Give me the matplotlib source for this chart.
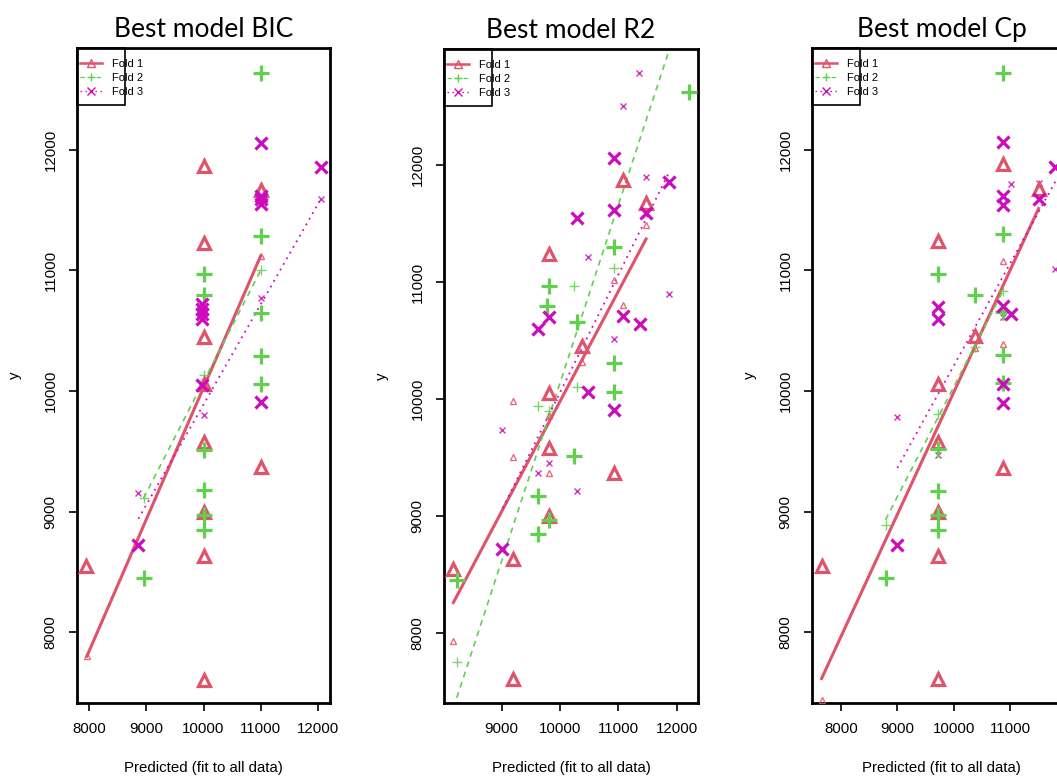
import numpy as np
import matplotlib
matplotlib.use("Agg")
import matplotlib.pyplot as plt
from matplotlib.patches import Rectangle

plt.rcParams['font.family'] = ['Liberation Sans', 'DejaVu Sans']

# colours of the three folds (R 4 palette)
FOLD_COLORS = ['#DF536B', '#61D04F', '#CD0BBC']
FOLD_NAMES = ['Fold 1', 'Fold 2', 'Fold 3']

# ---- Best model BIC ----
bic_f1_x = [7950, 10000, 10000, 10000, 10000, 10000, 10000, 10000, 10000, 11000, 11000]
bic_f1_y = [8550, 11870, 11230, 10450, 10060, 9580, 9000, 8630, 7600, 11670, 9370]
bic_f1_sx = [7960, 10000, 11000]
bic_f1_sy = [7800, 10060, 11120]
bic_f1_line = [(7960, 11000), (7800, 11120)]

bic_f2_x = [8950, 10000, 10000, 10000, 10000, 10000, 10000, 11000, 11000, 11000, 11000, 11000]
bic_f2_y = [8450, 10970, 10800, 9510, 9180, 8970, 8850, 12640, 11290, 10650, 10290, 10060]
bic_f2_sx = [8950, 10000, 11000]
bic_f2_sy = [9110, 10130, 11000]
bic_f2_line = [(8950, 11000), (9110, 11000)]

bic_f3_x = [8850, 9980, 9980, 9980, 9980, 9980, 11000, 11000, 11000, 11000, 11000, 12050]
bic_f3_y = [8720, 10720, 10680, 10640, 10600, 10050, 12060, 11620, 11590, 11550, 9910, 11860]
bic_f3_sx = [8850, 10000, 11000, 12050]
bic_f3_sy = [9150, 9800, 10770, 11590]
bic_f3_line = [(8860, 12050), (8940, 11590)]

# ---- Best model R2 ----
r2_f1_x = [9810, 11086, 11477, 10385, 9810, 9810, 9810, 10920, 8172, 9190, 9190]
r2_f1_y = [11239, 11872, 11673, 10457, 10048, 9584, 9000, 9365, 8550, 8630, 7607]
r2_f1_sx = [9190, 9190, 9810, 8172, 9810, 10385, 10920, 11086, 11477]
r2_f1_sy = [9986, 9500, 9365, 7929, 9860, 10320, 11020, 10807, 11489]
r2_f1_line = [(8172, 11477), (8259, 11369)]

r2_f2_x = [12207, 10920, 9810, 9770, 10299, 10920, 10920, 10247, 9621, 9810, 9621, 8230]
r2_f2_y = [12625, 11298, 10969, 10798, 10656, 10304, 10063, 9513, 9174, 8963, 8846, 8456]
r2_f2_sx = [10247, 10920, 10299, 9621, 9810, 8230]
r2_f2_sy = [10963, 11125, 10102, 9940, 9900, 7752]
r2_f2_line = [(8230, 12207), (7444, 13493)]

r2_f3_x = [10920, 10299, 10920, 11477, 11862, 9810, 9621, 11086, 11374, 10477, 10920, 9000]
r2_f3_y = [12065, 11545, 11616, 11594, 11858, 10702, 10599, 10713, 10645, 10062, 9906, 8721]
r2_f3_sx = [11362, 11086, 11477, 10477, 11862, 10920, 9000, 9810, 9621, 10299]
r2_f3_sy = [12787, 12503, 11895, 11213, 10898, 10514, 9735, 9450, 9365, 9217]
r2_f3_line = [(9017, 11862), (9066, 11929)]

# ---- Best model Cp ----
cp_f1_x = [7657, 9727, 10869, 11503, 10375, 9727, 9727, 9727, 9727, 10869, 9727]
cp_f1_y = [8544, 11242, 11883, 11675, 10456, 10056, 9578, 8994, 8628, 9365, 7608]
cp_f1_sx = [7657, 10869, 10869, 10375, 11503]
cp_f1_sy = [7434, 11078, 10389, 10360, 11720]
cp_f1_line = [(7657, 11503), (7614, 11514)]

cp_f2_x = [10869, 10869, 9727, 10375, 10869, 10869, 10869, 9727, 9727, 9727, 9727, 8790]
cp_f2_y = [12639, 11300, 10967, 10797, 10653, 10297, 10064, 9517, 9174, 8967, 8843, 8450]
cp_f2_sx = [8790, 9727, 10869, 10375]
cp_f2_sy = [8892, 9807, 10828, 10365]
cp_f2_line = [(8790, 10869), (8931, 10828)]

cp_f3_x = [10869, 11799, 10869, 10869, 11503, 9727, 9727, 10869, 11017, 10869, 10869, 9000]
cp_f3_y = [12069, 11861, 11617, 11542, 11597, 10694, 10597, 10708, 10639, 10056, 9903, 8718]
cp_f3_sx = [11017, 11503, 11799, 10869, 9000, 9727]
cp_f3_sy = [11717, 11728, 11014, 10611, 9785, 9470]
cp_f3_line = [(9000, 11850), (9362, 11780)]

titles = ['Best model BIC', 'Best model R2', 'Best model Cp']
xlims = [(7786, 12214), (8011, 12368), (7487, 12077)]
ylims = [(7411, 12846), (7400, 12994), (7411, 12846)]
xtick_sets = [[8000, 9000, 10000, 11000, 12000],
              [9000, 10000, 11000, 12000],
              [8000, 9000, 10000, 11000]]
ytick_vals = [8000, 9000, 10000, 11000, 12000]

panels = [
    [(bic_f1_x, bic_f1_y, bic_f1_sx, bic_f1_sy, bic_f1_line),
     (bic_f2_x, bic_f2_y, bic_f2_sx, bic_f2_sy, bic_f2_line),
     (bic_f3_x, bic_f3_y, bic_f3_sx, bic_f3_sy, bic_f3_line)],
    [(r2_f1_x, r2_f1_y, r2_f1_sx, r2_f1_sy, r2_f1_line),
     (r2_f2_x, r2_f2_y, r2_f2_sx, r2_f2_sy, r2_f2_line),
     (r2_f3_x, r2_f3_y, r2_f3_sx, r2_f3_sy, r2_f3_line)],
    [(cp_f1_x, cp_f1_y, cp_f1_sx, cp_f1_sy, cp_f1_line),
     (cp_f2_x, cp_f2_y, cp_f2_sx, cp_f2_sy, cp_f2_line),
     (cp_f3_x, cp_f3_y, cp_f3_sx, cp_f3_sy, cp_f3_line)],
]

# marker / line style per fold
fold_styles = [
    dict(marker='^', big=9, small=5, ls='-', lw=2.2, dashes=None),
    dict(marker='+', big=11, small=7, ls='--', lw=1.2, dashes=(3.5, 3)),
    dict(marker='x', big=8, small=5, ls=':', lw=1.3, dashes=(1, 2.6)),
]

W, H = 1057, 780
# axes boxes in pixels: left, top, right, bottom
boxes = [(77, 48, 330, 703), (444, 49, 698, 703), (812, 48, 1071, 703)]

fig = plt.figure(figsize=(W / 100, H / 100), dpi=100)

for k, (l, t, r, b) in enumerate(boxes):
    aw, ah = r - l, b - t
    ax = fig.add_axes([l / W, 1 - b / H, aw / W, ah / H])
    for i, (bx, by, sx, sy, ln) in enumerate(panels[k]):
        st = fold_styles[i]
        c = FOLD_COLORS[i]
        mfc = 'none' if st['marker'] == '^' else c
        line, = ax.plot(ln[0], ln[1], color=c, lw=st['lw'], ls=st['ls'], zorder=2)
        if st['dashes']:
            line.set_dashes(st['dashes'])
        ax.plot(sx, sy, ls='none', marker=st['marker'], ms=st['small'], mew=1.0,
                mfc=mfc, mec=c, alpha=0.85, zorder=3)
        ax.plot(bx, by, ls='none', marker=st['marker'], ms=st['big'], mew=2.3,
                mfc=mfc, mec=c, zorder=4)
        # legend handle
        h, = ax.plot([], [], color=c, lw=[1.8, 0.9, 1.0][i], ls=st['ls'], marker=st['marker'],
                     ms=5.5, mew=1, mfc=mfc, mec=c, label=FOLD_NAMES[i])
        if st['dashes']:
            h.set_dashes(st['dashes'])

    ax.set_xlim(*xlims[k])
    ax.set_ylim(*ylims[k])
    ax.set_xticks(xtick_sets[k])
    ax.set_yticks(ytick_vals)
    ax.tick_params(axis='both', direction='out', length=6, width=1.2, pad=8,
                   labelsize=10.8, colors='black')
    ax.tick_params(axis='y', labelrotation=90)
    for lab in ax.get_yticklabels():
        lab.set_va('center')
    for sp in ax.spines.values():
        sp.set_linewidth(2.0)

    ax.set_title(titles[k], fontsize=19, family='Lato', pad=8)
    ax.set_xlabel('Predicted (fit to all data)', fontsize=10.8)
    ax.set_ylabel('y', fontsize=10.8)
    ax.xaxis.set_label_coords(0.5, -65 / ah)
    ax.xaxis.label.set_va('center')
    ax.yaxis.set_label_coords(-62 / aw, 0.5)
    ax.yaxis.label.set_va('center')

    ax.legend(loc='upper left', bbox_to_anchor=(0, 1 - 8 / ah), frameon=False,
              fontsize=8, handlelength=1.95, handletextpad=0.9,
              labelspacing=0.33, borderpad=0.3, borderaxespad=0)
    ax.add_patch(Rectangle((0, 1 - 57 / ah), 48 / aw, 57 / ah,
                           transform=ax.transAxes, fill=False, lw=1.2,
                           edgecolor='black', clip_on=False, zorder=5))

fig.savefig('out.png', dpi=100)
